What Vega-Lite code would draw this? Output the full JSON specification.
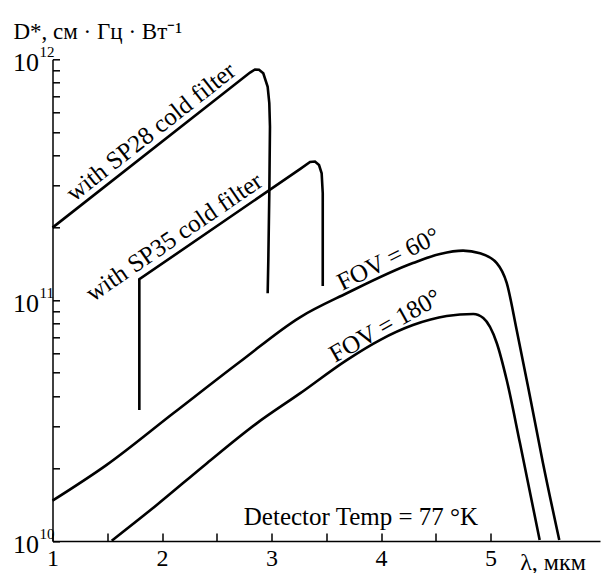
{
  "$schema": "https://vega.github.io/schema/vega-lite/v6.json",
  "width": 547.5,
  "height": 481.7,
  "autosize": {"type": "none"},
  "padding": {"left": 52.5, "top": 59.3, "right": 9, "bottom": 32},
  "background": "white",
  "config": {"view": {"stroke": null}, "font": "Liberation Serif"},
  "datasets": {
    "curves": [
      {"s": "SP28", "o": 1, "x": 1.0, "y": 2.0e11},
      {"s": "SP28", "o": 2, "x": 2.804, "y": 8.81e11},
      {"s": "SP28", "o": 3, "x": 2.849, "y": 9.07e11},
      {"s": "SP28", "o": 4, "x": 2.886, "y": 9.05e11},
      {"s": "SP28", "o": 5, "x": 2.925, "y": 8.75e11},
      {"s": "SP28", "o": 6, "x": 2.965, "y": 7.69e11},
      {"s": "SP28", "o": 7, "x": 2.98, "y": 6.57e11},
      {"s": "SP28", "o": 8, "x": 2.986, "y": 5.25e11},
      {"s": "SP28", "o": 9, "x": 2.98, "y": 2.78e11},
      {"s": "SP28", "o": 10, "x": 2.971, "y": 1.468e11},
      {"s": "SP28", "o": 11, "x": 2.965, "y": 1.068e11},
      {"s": "SP35", "o": 1, "x": 1.793, "y": 3.5e10},
      {"s": "SP35", "o": 2, "x": 1.793, "y": 1.221e11},
      {"s": "SP35", "o": 3, "x": 3.26, "y": 3.5e11},
      {"s": "SP35", "o": 4, "x": 3.352, "y": 3.747e11},
      {"s": "SP35", "o": 5, "x": 3.397, "y": 3.765e11},
      {"s": "SP35", "o": 6, "x": 3.434, "y": 3.64e11},
      {"s": "SP35", "o": 7, "x": 3.458, "y": 3.363e11},
      {"s": "SP35", "o": 8, "x": 3.468, "y": 2.78e11},
      {"s": "SP35", "o": 9, "x": 3.468, "y": 1.145e11},
      {"s": "FOV60", "o": 1, "x": 1.0, "y": 1.47e10},
      {"s": "FOV60", "o": 2, "x": 1.495, "y": 2.07e10},
      {"s": "FOV60", "o": 3, "x": 2.103, "y": 3.39e10},
      {"s": "FOV60", "o": 4, "x": 2.712, "y": 5.55e10},
      {"s": "FOV60", "o": 5, "x": 3.26, "y": 8.49e10},
      {"s": "FOV60", "o": 6, "x": 3.687, "y": 1.068e11},
      {"s": "FOV60", "o": 7, "x": 4.292, "y": 1.426e11},
      {"s": "FOV60", "o": 8, "x": 4.539, "y": 1.555e11},
      {"s": "FOV60", "o": 9, "x": 4.749, "y": 1.605e11},
      {"s": "FOV60", "o": 10, "x": 4.904, "y": 1.565e11},
      {"s": "FOV60", "o": 11, "x": 5.057, "y": 1.426e11},
      {"s": "FOV60", "o": 12, "x": 5.148, "y": 1.179e11},
      {"s": "FOV60", "o": 13, "x": 5.239, "y": 7.52e10},
      {"s": "FOV60", "o": 14, "x": 5.361, "y": 3.97e10},
      {"s": "FOV60", "o": 15, "x": 5.479, "y": 2.11e10},
      {"s": "FOV60", "o": 16, "x": 5.628, "y": 1.01e10},
      {"s": "FOV180", "o": 1, "x": 1.541, "y": 1.003e10},
      {"s": "FOV180", "o": 2, "x": 1.952, "y": 1.411e10},
      {"s": "FOV180", "o": 3, "x": 2.408, "y": 2.1e10},
      {"s": "FOV180", "o": 4, "x": 2.865, "y": 3.08e10},
      {"s": "FOV180", "o": 5, "x": 3.26, "y": 4.1e10},
      {"s": "FOV180", "o": 6, "x": 3.687, "y": 5.64e10},
      {"s": "FOV180", "o": 7, "x": 3.99, "y": 6.83e10},
      {"s": "FOV180", "o": 8, "x": 4.292, "y": 7.88e10},
      {"s": "FOV180", "o": 9, "x": 4.6, "y": 8.59e10},
      {"s": "FOV180", "o": 10, "x": 4.843, "y": 8.76e10},
      {"s": "FOV180", "o": 11, "x": 4.934, "y": 8.43e10},
      {"s": "FOV180", "o": 12, "x": 5.057, "y": 6.64e10},
      {"s": "FOV180", "o": 13, "x": 5.148, "y": 4.66e10},
      {"s": "FOV180", "o": 14, "x": 5.269, "y": 2.55e10},
      {"s": "FOV180", "o": 15, "x": 5.449, "y": 1.01e10}
    ]
  },
  "layer": [
    {
      "data": {"name": "curves"},
      "transform": [{"filter": "datum.s === 'FOV60' || datum.s === 'FOV180'"}],
      "mark": {"type": "line", "interpolate": "monotone", "color": "black", "strokeWidth": 2.6},
      "encoding": {
        "x": {
          "field": "x", "type": "quantitative",
          "scale": {"type": "linear", "domain": [1, 6], "nice": false, "zero": false},
          "axis": {
            "values": [1, 1.5, 2, 2.5, 3, 3.5, 4, 4.5, 5],
            "labelExpr": "datum.value % 1 === 0 ? format(datum.value, 'd') : ''",
            "grid": false,
            "domainColor": "black", "domainWidth": 1.5,
            "tickColor": "black", "tickWidth": 1.5, "tickSize": -8,
            "labelPadding": 13, "labelFontSize": 24, "labelFont": "Liberation Serif",
            "labelColor": "black", "labelOverlap": false, "labelFlush": false,
            "title": "λ, мкм", "titleFont": "Liberation Serif", "titleFontSize": 24,
            "titleFontWeight": "normal", "titleColor": "black",
            "titleX": 500, "titleY": 28, "titleAlign": "center", "titleBaseline": "alphabetic"
          }
        },
        "y": {
          "field": "y", "type": "quantitative",
          "scale": {"type": "log", "domain": [1e10, 1e12], "nice": false},
          "axis": {
            "values": [1e10, 2e10, 3e10, 4e10, 5e10, 6e10, 7e10, 8e10, 9e10, 1e11, 2e11, 3e11, 4e11, 5e11, 6e11, 7e11, 8e11, 9e11, 1e12],
            "labelExpr": "abs(log(datum.value)/LN10 - round(log(datum.value)/LN10)) < 0.001 ? '10' : ''",
            "grid": false,
            "domainColor": "black", "domainWidth": 1.5,
            "tickColor": "black", "tickWidth": 1.5, "tickSize": -7,
            "labelPadding": 21, "labelFontSize": 26, "labelFont": "Liberation Serif",
            "labelColor": "black", "labelOverlap": false, "labelFlush": false, "labelOffset": 3,
            "title": "D*, см · Гц · Вт⁻¹", "titleFont": "Liberation Serif", "titleFontSize": 23,
            "titleFontWeight": "normal", "titleColor": "black", "titleAngle": 0,
            "titleX": -39.5, "titleY": -21, "titleAlign": "left", "titleBaseline": "alphabetic"
          }
        },
        "detail": {"field": "s"},
        "order": {"field": "o"}
      }
    },
    {
      "data": {"name": "curves"},
      "transform": [{"filter": "datum.s === 'SP28' || datum.s === 'SP35'"}],
      "mark": {"type": "line", "interpolate": "linear", "color": "black", "strokeWidth": 2.6},
      "encoding": {
        "x": {"field": "x", "type": "quantitative"},
        "y": {"field": "y", "type": "quantitative"},
        "detail": {"field": "s"},
        "order": {"field": "o"}
      }
    },
    {
      "data": {"values": [{"x": 1.898, "y": 5.005e11, "t": "with SP28 cold filter"}]},
      "mark": {"type": "text", "angle": -38.2, "fontSize": 25, "font": "Liberation Serif", "color": "black", "align": "center", "baseline": "middle"},
      "encoding": {"x": {"field": "x", "type": "quantitative"}, "y": {"field": "y", "type": "quantitative"}, "text": {"field": "t"}}
    },
    {
      "data": {"values": [{"x": 2.11, "y": 1.829e11, "t": "with SP35 cold filter"}]},
      "mark": {"type": "text", "angle": -34.4, "fontSize": 25, "font": "Liberation Serif", "color": "black", "align": "center", "baseline": "middle"},
      "encoding": {"x": {"field": "x", "type": "quantitative"}, "y": {"field": "y", "type": "quantitative"}, "text": {"field": "t"}}
    },
    {
      "data": {"values": [{"x": 4.067, "y": 1.482e11, "t": "FOV = 60°"}]},
      "mark": {"type": "text", "angle": -26.5, "fontSize": 25, "font": "Liberation Serif", "color": "black", "align": "center", "baseline": "middle"},
      "encoding": {"x": {"field": "x", "type": "quantitative"}, "y": {"field": "y", "type": "quantitative"}, "text": {"field": "t"}}
    },
    {
      "data": {"values": [{"x": 4.037, "y": 7.83e10, "t": "FOV = 180°"}]},
      "mark": {"type": "text", "angle": -29.3, "fontSize": 25, "font": "Liberation Serif", "color": "black", "align": "center", "baseline": "middle"},
      "encoding": {"x": {"field": "x", "type": "quantitative"}, "y": {"field": "y", "type": "quantitative"}, "text": {"field": "t"}}
    },
    {
      "data": {"values": [{"x": 3.817, "y": 1.258e10, "t": "Detector Temp = 77 °K"}]},
      "mark": {"type": "text", "fontSize": 25, "font": "Liberation Serif", "color": "black", "align": "center", "baseline": "middle"},
      "encoding": {"x": {"field": "x", "type": "quantitative"}, "y": {"field": "y", "type": "quantitative"}, "text": {"field": "t"}}
    },
    {
      "data": {"values": [{"x": 1, "y": 1e10, "t": "10"}, {"x": 1, "y": 1e11, "t": "11"}, {"x": 1, "y": 1e12, "t": "12"}]},
      "mark": {"type": "text", "fontSize": 15, "font": "Liberation Serif", "color": "black", "align": "left", "baseline": "middle", "dx": -13, "dy": -7},
      "encoding": {"x": {"field": "x", "type": "quantitative"}, "y": {"field": "y", "type": "quantitative"}, "text": {"field": "t"}}
    }
  ]
}
